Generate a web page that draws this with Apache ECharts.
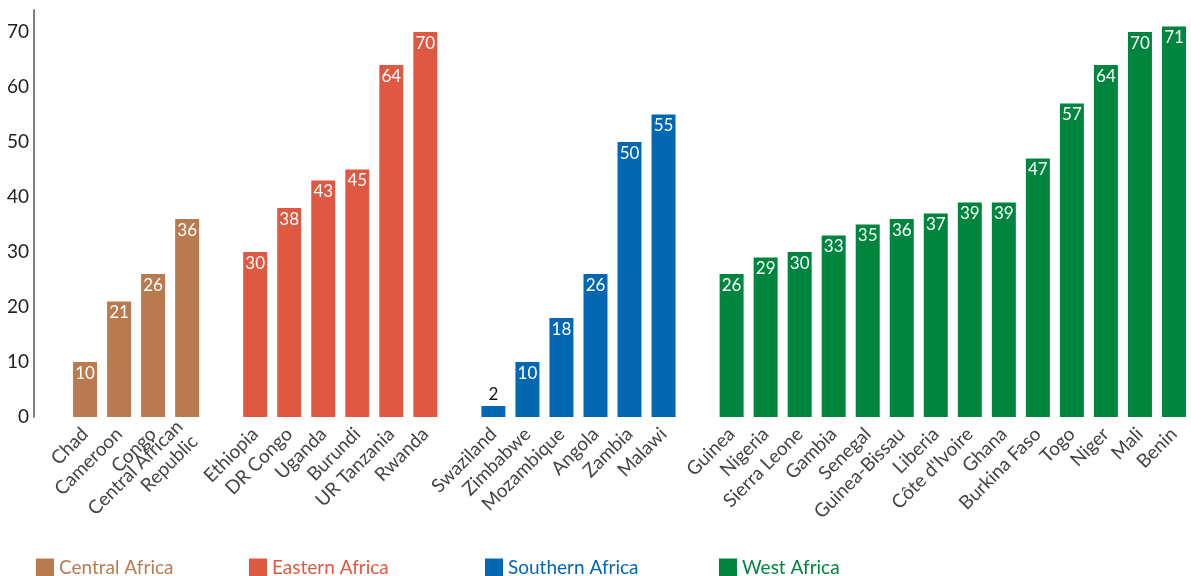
<!DOCTYPE html>
<html>
<head>
<meta charset="utf-8">
<script src="https://cdn.jsdelivr.net/npm/echarts@6/dist/echarts.min.js"></script>
<style>
  html, body { margin: 0; padding: 0; background: #fff; }
  #main { width: 1191px; height: 576px; }
</style>
</head>
<body>
<div id="main"></div>
<script>
// --- data ---
var centralNames = ['Chad', 'Cameroon', 'Congo', 'Central African\nRepublic'];
var centralValues = [10, 21, 26, 36];
var easternNames = ['Ethiopia', 'DR Congo', 'Uganda', 'Burundi', 'UR Tanzania', 'Rwanda'];
var easternValues = [30, 38, 43, 45, 64, 70];
var southernNames = ['Swaziland', 'Zimbabwe', 'Mozambique', 'Angola', 'Zambia', 'Malawi'];
var southernValues = [2, 10, 18, 26, 50, 55];
var westNames = ['Guinea', 'Nigeria', 'Sierra Leone', 'Gambia', 'Senegal', 'Guinea-Bissau', 'Liberia',
    'Côte d\'Ivoire', 'Ghana', 'Burkina Faso', 'Togo', 'Niger', 'Mali', 'Benin'];
var westValues = [26, 29, 30, 33, 35, 36, 37, 39, 39, 47, 57, 64, 70, 71];
var yTicks = [0, 10, 20, 30, 40, 50, 60, 70];

var groups = [
    {name: 'Central Africa', color: '#B97A50', names: centralNames, values: centralValues, legendX: 36},
    {name: 'Eastern Africa', color: '#DF5942', names: easternNames, values: easternValues, legendX: 249},
    {name: 'Southern Africa', color: '#0367B2', names: southernNames, values: southernValues, legendX: 485},
    {name: 'West Africa', color: '#00853F', names: westNames, values: westValues, legendX: 719}
];

// categories, one empty slot before each group
var categories = [];
groups.forEach(function (g) {
    g.start = categories.length + 1;
    categories.push('');
    g.names.forEach(function (n) { categories.push(n); });
});

var FONT = 'Lato';

var series = groups.map(function (g) {
    var data = categories.map(function () { return '-'; });
    g.values.forEach(function (v, i) {
        var item = {value: v};
        if (v < 5) {
            item.label = {position: 'top', color: '#111', distance: 3};
        }
        data[g.start + i] = item;
    });
    return {
        name: g.name,
        type: 'bar',
        stack: 'all',
        barWidth: 24,
        itemStyle: {color: g.color},
        label: {
            show: true,
            position: 'insideTop',
            distance: 3,
            color: '#fff',
            fontFamily: FONT,
            fontSize: 17
        },
        data: data
    };
});

var legends = groups.map(function (g) {
    return {
        data: [g.name],
        left: g.legendX,
        top: 558,
        padding: 0,
        itemWidth: 18,
        itemHeight: 18,
        itemGap: 6,
        icon: 'rect',
        textStyle: {color: g.color, fontFamily: FONT, fontSize: 19}
    };
});

var myChart = echarts.init(document.getElementById('main'));
myChart.setOption({
    backgroundColor: '#fff',
    animation: false,
    legend: legends,
    grid: {left: 34, top: 10, width: 1163, height: 407},
    xAxis: {
        type: 'category',
        data: categories,
        axisLine: {show: false},
        axisTick: {show: false},
        axisLabel: {
            interval: 0,
            rotate: 45,
            margin: 14,
            color: '#444',
            fontFamily: FONT,
            fontSize: 19,
            lineHeight: 21
        }
    },
    yAxis: {
        type: 'value',
        min: 0,
        max: 74,
        interval: 10,
        axisLine: {show: true, lineStyle: {color: '#808080', width: 2}},
        axisTick: {show: false},
        splitLine: {show: false},
        axisLabel: {
            margin: 5,
            color: '#222',
            fontFamily: FONT,
            fontSize: 19,
            formatter: function (v) { return yTicks.indexOf(v) >= 0 ? v : ''; }
        }
    },
    series: series
});
</script>
</body>
</html>
